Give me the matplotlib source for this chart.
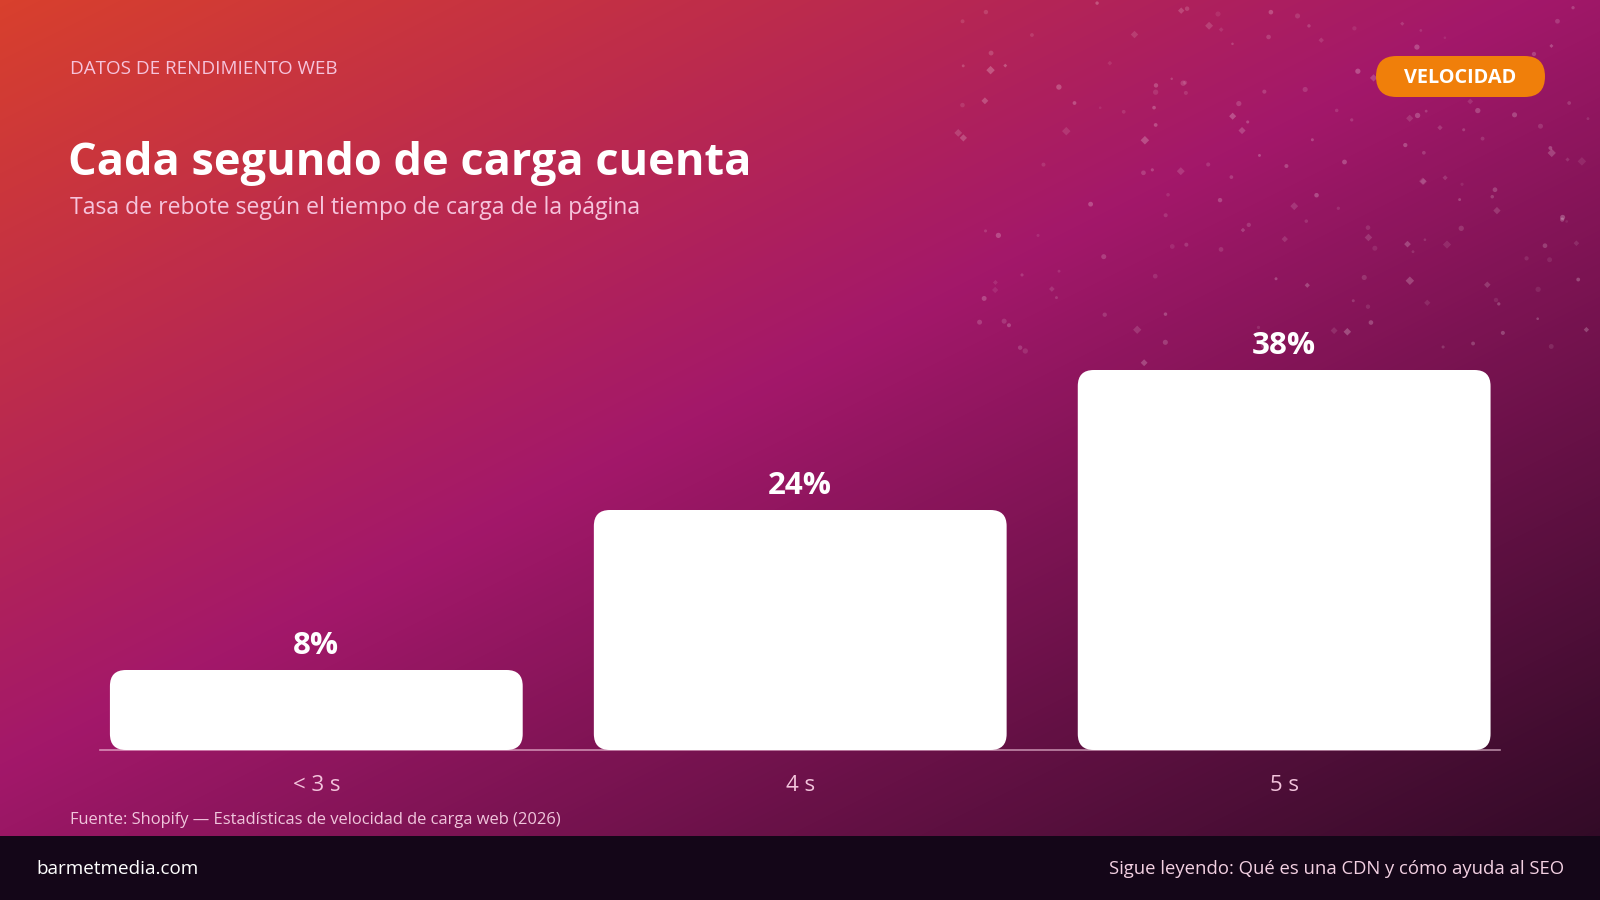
import numpy as np
import matplotlib.pyplot as plt
from matplotlib.colors import LinearSegmentedColormap
from matplotlib.patches import FancyBboxPatch, Rectangle

plt.rcParams['font.family'] = ['Open Sans', 'DejaVu Sans']

categories = ['< 3 s', '4 s', '5 s']
bounce_rate = [8, 24, 38]
value_labels = ['8%', '24%', '38%']

W, H = 1600, 900
fig = plt.figure(figsize=(16, 9), dpi=100)

# background: gradient in pixel coordinates
bg = fig.add_axes([0, 0, 1, 1])
bg.set_xlim(0, W)
bg.set_ylim(H, 0)
bg.axis('off')
xx, yy = np.meshgrid(np.arange(W), np.arange(H))
t = (xx + 2 * yy) / 3400.0
cmap = LinearSegmentedColormap.from_list(
    'bg', [(0, '#d8402d'), (0.45, '#a3186a'), (1.0, '#2a0a22')])
bg.imshow(t, cmap=cmap, vmin=0, vmax=1, extent=(0, W, H, 0), aspect='auto', zorder=0)

# faint decorative specks top right
rs = np.random.RandomState(11)
n = 170
dx = rs.uniform(950, 1595, n)
dy = rs.uniform(2, 365, n)
ds = rs.uniform(3, 15, n)
da = rs.uniform(0.08, 0.24, n)
sel = rs.rand(n) < 0.75
bg.scatter(dx[sel], dy[sel], s=ds[sel], c=[(1, 1, 1, a) for a in da[sel]],
           marker='o', linewidths=0, zorder=1)
bg.scatter(dx[~sel], dy[~sel], s=ds[~sel] * 1.3, c=[(1, 1, 1, a) for a in da[~sel]],
           marker='D', linewidths=0, zorder=1)

# headings
pink = '#f6c4dc'
bg.text(70, 69, 'DATOS DE RENDIMIENTO WEB', fontsize=13.6, color=pink,
        va='center', ha='left')
bg.text(68, 163, 'Cada segundo de carga cuenta', fontsize=32.5, color='white',
        fontweight='bold', va='center', ha='left')
bg.text(70, 208, 'Tasa de rebote según el tiempo de carga de la página', fontsize=16.6,
        color=pink, va='center', ha='left')

# badge
bg.add_patch(FancyBboxPatch((1376, 56), 169, 41,
                            boxstyle='round,pad=0,rounding_size=20.5',
                            fc='#f07f0a', ec='none', zorder=3))
bg.text(1460, 78, 'VELOCIDAD', fontsize=14.3, color='white', fontweight='bold',
        va='center', ha='center', zorder=4)

# source and footer
bg.text(70, 820, 'Fuente: Shopify — Estadísticas de velocidad de carga web (2026)',
        fontsize=11.9, color='#f0c6dc', va='center', ha='left')
bg.add_patch(Rectangle((0, 836), W, 64, fc='#140618', ec='none', zorder=2))
bg.text(36, 869, 'barmetmedia.com', fontsize=13.6, color='white',
        va='center', ha='left', zorder=3)
bg.text(1564, 869, 'Sigue leyendo: Qué es una CDN y cómo ayuda al SEO', fontsize=13.3,
        color='#f3d0e2', va='center', ha='right', zorder=3)

# bar chart
ax = fig.add_axes([100 / W, 150 / H, 1400 / W, 450 / H])
ax.patch.set_alpha(0)
x = np.arange(len(categories))
ax.set_xlim(-0.447, 2.446)
ax.set_ylim(0, 45)
bars = ax.bar(x, bounce_rate, width=0.853, color='white')

# rounded corners, same radius in x and y pixels
xpp = (2.446 + 0.447) / 1400.0
ypp = 45 / 450.0
for b in bars:
    fb = FancyBboxPatch((b.get_x(), b.get_y()), b.get_width(), b.get_height(),
                        boxstyle='round,pad=0,rounding_size=%f' % (16 * xpp),
                        mutation_aspect=ypp / xpp, fc='white', ec='none', zorder=3)
    ax.add_patch(fb)
    b.remove()

for xi, v, lab in zip(x, bounce_rate, value_labels):
    ax.annotate(lab, (xi, v), xytext=(0, 17), textcoords='offset points',
                ha='center', va='center', fontsize=22.5, fontweight='bold', color='white')

ax.set_xticks(x)
ax.set_xticklabels(categories, fontsize=16, color='#f3c4dc')
ax.tick_params(axis='x', length=0, pad=18)
ax.set_yticks([])
for s in ['top', 'right', 'left']:
    ax.spines[s].set_visible(False)
ax.spines['bottom'].set_color((1, 0.85, 0.92, 0.6))
ax.spines['bottom'].set_linewidth(1.2)
ax.spines['bottom'].set_zorder(2)

fig.savefig('out.png', dpi=100)
